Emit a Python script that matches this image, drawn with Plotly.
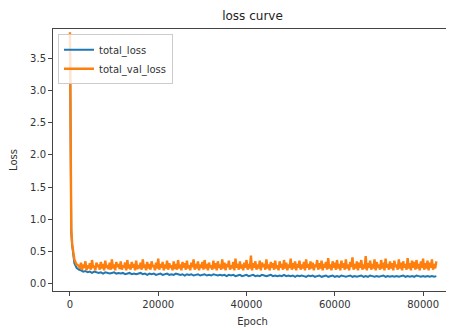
import plotly.graph_objects as go

# Epoch grids
epochs_start = [0, 100, 200, 300, 500, 700, 1000, 1500, 2000]
train_epochs = epochs_start + list(range(2500, 83001, 500))
val_epochs = epochs_start + list(range(2250, 83001, 250))

train_start = [3.85, 2.2, 1.2, 0.8, 0.6, 0.45, 0.32, 0.25, 0.22]
train_rest = [
    0.21,0.19,0.20,0.18,0.19,0.17,0.19,0.18,0.17,0.18,0.16,0.18,0.17,0.16,0.17,0.18,0.16,0.17,
    0.16,0.17,0.15,0.16,0.17,0.15,0.16,0.15,0.16,0.17,0.15,0.16,0.14,0.16,0.15,0.16,0.14,0.15,
    0.16,0.14,0.15,0.16,0.14,0.15,0.14,0.16,0.15,0.14,0.15,0.13,0.15,0.14,0.15,0.13,0.14,0.15,
    0.13,0.14,0.15,0.13,0.14,0.13,0.15,0.14,0.13,0.14,0.13,0.14,0.12,0.14,0.13,0.14,0.12,0.13,
    0.14,0.12,0.13,0.14,0.12,0.13,0.14,0.12,0.13,0.12,0.14,0.13,0.12,0.13,0.14,0.12,0.13,0.12,
    0.13,0.12,0.14,0.12,0.13,0.12,0.13,0.11,0.13,0.12,0.13,0.12,0.11,0.13,0.12,0.13,0.11,0.12,
    0.13,0.11,0.12,0.13,0.11,0.12,0.13,0.11,0.12,0.11,0.13,0.12,0.11,0.12,0.13,0.11,0.12,0.11,
    0.12,0.13,0.11,0.12,0.11,0.13,0.12,0.11,0.12,0.11,0.12,0.13,0.11,0.12,0.11,0.12,0.11,0.12,
    0.11,0.12,0.13,0.11,0.12,0.11,0.12,0.11,0.13,0.12,0.11,0.12,0.11,0.12,0.11,0.12,0.11,0.12,
]
total_loss = train_start + train_rest

val_start = [3.9, 2.3, 1.3, 0.85, 0.62, 0.5, 0.38, 0.3, 0.28]
val_rest = [
    0.24,0.33,0.22,0.30,0.25,0.35,0.21,0.29,0.24,0.32,0.22,0.37,0.25,0.28,0.21,0.33,0.26,0.30,
    0.22,0.34,0.24,0.31,0.21,0.36,0.25,0.29,0.23,0.33,0.22,0.38,0.24,0.30,0.21,0.34,0.26,0.31,
    0.23,0.35,0.22,0.29,0.25,0.33,0.21,0.37,0.24,0.30,0.22,0.34,0.25,0.31,0.21,0.36,0.23,0.29,
    0.24,0.33,0.22,0.38,0.25,0.30,0.21,0.34,0.24,0.31,0.22,0.35,0.26,0.29,0.21,0.33,0.24,0.39,
    0.22,0.31,0.25,0.34,0.21,0.30,0.24,0.36,0.22,0.32,0.25,0.29,0.21,0.35,0.23,0.31,0.22,0.37,
    0.24,0.30,0.21,0.34,0.25,0.32,0.22,0.36,0.24,0.29,0.21,0.33,0.26,0.38,0.22,0.31,0.24,0.35,
    0.21,0.30,0.25,0.34,0.22,0.37,0.24,0.31,0.21,0.33,0.25,0.29,0.22,0.36,0.24,0.32,0.21,0.35,
    0.25,0.30,0.22,0.38,0.24,0.33,0.21,0.31,0.26,0.36,0.22,0.29,0.24,0.34,0.21,0.39,0.25,0.31,
    0.22,0.35,0.24,0.30,0.21,0.33,0.25,0.37,0.22,0.31,0.24,0.44,0.21,0.32,0.25,0.35,0.22,0.30,
    0.24,0.36,0.21,0.33,0.26,0.31,0.22,0.38,0.24,0.30,0.21,0.34,0.25,0.32,0.22,0.36,0.24,0.29,
    0.21,0.35,0.25,0.31,0.22,0.37,0.24,0.33,0.21,0.30,0.25,0.39,0.22,0.32,0.24,0.35,0.21,0.31,
    0.25,0.36,0.22,0.30,0.24,0.34,0.21,0.38,0.25,0.31,0.22,0.35,0.24,0.33,0.21,0.30,0.26,0.37,
    0.22,0.32,0.24,0.36,0.21,0.31,0.25,0.34,0.22,0.40,0.24,0.30,0.21,0.35,0.25,0.33,0.22,0.37,
    0.24,0.31,0.21,0.36,0.25,0.32,0.22,0.38,0.24,0.30,0.21,0.34,0.26,0.41,0.22,0.31,0.24,0.35,
    0.21,0.33,0.25,0.37,0.22,0.30,0.24,0.43,0.21,0.32,0.25,0.36,0.22,0.31,0.24,0.38,0.21,0.34,
    0.25,0.30,0.22,0.37,0.24,0.33,0.21,0.39,0.25,0.31,0.22,0.35,0.24,0.32,0.21,0.36,0.26,0.30,
    0.22,0.38,0.24,0.33,0.21,0.35,0.25,0.31,0.22,0.40,0.24,0.32,0.21,0.36,0.25,0.34,0.22,0.37,
    0.24,0.31,0.21,0.35,0.25,0.39,0.22,0.32,0.24,0.36,0.21,0.33,0.25,0.38,0.22,0.31,0.24,0.35,
]
total_val_loss = val_start + val_rest

x_ticks = [0, 20000, 40000, 60000, 80000]
y_ticks = [0.0, 0.5, 1.0, 1.5, 2.0, 2.5, 3.0, 3.5]

fig = go.Figure()
fig.add_trace(go.Scatter(x=train_epochs, y=total_loss, mode="lines", name="total_loss",
                         line=dict(color="#1f77b4", width=2)))
fig.add_trace(go.Scatter(x=val_epochs, y=total_val_loss, mode="lines", name="total_val_loss",
                         line=dict(color="#ff7f0e", width=2.4)))

axis_common = dict(showline=True, linecolor="#444", linewidth=1, mirror=True,
                   ticks="outside", ticklen=4, tickcolor="#444", showgrid=False,
                   zeroline=False, automargin=False, tickfont=dict(size=10, color="#333"))

# page body has an 8px offset, so the figure is sized to fit the remaining window
W, H = 446, 322
fig.update_layout(
    width=W, height=H,
    margin=dict(l=45, r=2, t=21, b=39),
    paper_bgcolor="white", plot_bgcolor="white",
    font=dict(family="DejaVu Sans", color="#333"),
    title=dict(text="loss curve", x=(45 + 399 / 2) / W, xanchor="center",
               y=1 - 8 / H, yanchor="middle", font=dict(size=12, color="#222")),
    xaxis=dict(range=[-3840, 86550], tickvals=x_ticks, ticktext=[str(v) for v in x_ticks],
               title=dict(text="Epoch", font=dict(size=10), standoff=8), **axis_common),
    yaxis=dict(range=[-0.11, 3.95], tickvals=y_ticks, ticktext=[f"{v:.1f}" for v in y_ticks],
               title=dict(text="Loss", font=dict(size=10), standoff=10), **axis_common),
    legend=dict(x=0.0125, y=0.98, xanchor="left", yanchor="top",
                bgcolor="rgba(255,255,255,0.8)", bordercolor="#ccc", borderwidth=1,
                font=dict(size=10, color="#333"), tracegroupgap=0, itemwidth=30),
    showlegend=True,
)

fig.write_html("out.html")
